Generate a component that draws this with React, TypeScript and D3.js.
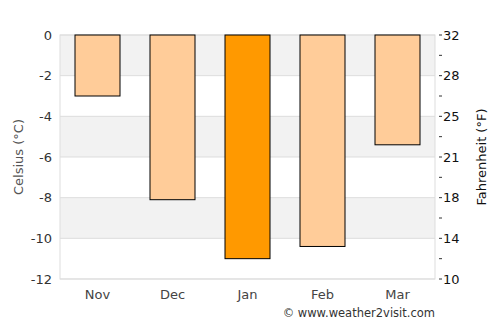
import React, { useEffect, useRef } from 'react';
import * as d3 from 'd3';

const months = ['Nov', 'Dec', 'Jan', 'Feb', 'Mar'];
const celsius = [-3.0, -8.1, -11.0, -10.4, -5.4];
const celsiusTicks = [0, -2, -4, -6, -8, -10, -12];
const fahrenheitLabels = ['32', '28', '25', '21', '18', '14', '10'];
const minorTicks = [-1, -3, -5, -7, -9, -11];

const App: React.FC = () => {
  const svgRef = useRef<SVGSVGElement>(null);

  useEffect(() => {
    if (!svgRef.current) return;
    const W = 500, H = 325;
    const margin = { top: 35, right: 65, bottom: 46, left: 60 };
    const width = W - margin.left - margin.right;
    const height = H - margin.top - margin.bottom;
    const font = 'DejaVu Sans, sans-serif';

    const svg = d3.select(svgRef.current);
    svg.selectAll('*').remove();

    const g = svg.append('g').attr('transform', `translate(${margin.left},${margin.top})`);

    const x = d3.scaleBand().domain(months).range([0, width]).paddingInner(0.4).paddingOuter(0.2);
    const y = d3.scaleLinear().domain([0, -12]).range([0, height]);

    // alternating bands
    celsiusTicks.slice(0, -1).forEach((t, i) => {
      g.append('rect')
        .attr('x', 0)
        .attr('y', y(t))
        .attr('width', width)
        .attr('height', y(t - 2) - y(t))
        .attr('fill', i % 2 === 0 ? '#f2f2f2' : '#ffffff');
    });

    // gridlines
    g.selectAll('line.grid')
      .data(celsiusTicks)
      .enter().append('line')
      .attr('class', 'grid')
      .attr('x1', 0).attr('x2', width)
      .attr('y1', d => y(d)).attr('y2', d => y(d))
      .attr('stroke', '#dddddd');

    g.append('rect')
      .attr('x', 0).attr('y', 0)
      .attr('width', width).attr('height', height)
      .attr('fill', 'none').attr('stroke', '#dddddd');

    const minC = d3.min(celsius) as number;
    g.selectAll('rect.bar')
      .data(celsius)
      .enter().append('rect')
      .attr('class', 'bar')
      .attr('x', (_, i) => x(months[i]) as number)
      .attr('y', y(0))
      .attr('width', x.bandwidth())
      .attr('height', d => y(d) - y(0))
      .attr('fill', d => d === minC ? '#ff9900' : '#ffcc99')
      .attr('stroke', '#000')
      .attr('stroke-width', 1);

    // left axis labels
    g.selectAll('text.lt')
      .data(celsiusTicks)
      .enter().append('text')
      .attr('class', 'lt')
      .attr('x', -8)
      .attr('y', d => y(d))
      .attr('dy', '0.35em')
      .attr('text-anchor', 'end')
      .attr('font-family', font)
      .attr('font-size', 13)
      .attr('fill', '#333')
      .text(d => String(d));

    // right axis
    g.selectAll('line.rt')
      .data([...celsiusTicks, ...minorTicks])
      .enter().append('line')
      .attr('class', 'rt')
      .attr('x1', width + 4).attr('x2', width + 7)
      .attr('y1', d => y(d)).attr('y2', d => y(d))
      .attr('stroke', '#333');

    g.selectAll('text.rl')
      .data(celsiusTicks)
      .enter().append('text')
      .attr('class', 'rl')
      .attr('x', width + 8)
      .attr('y', d => y(d))
      .attr('dy', '0.35em')
      .attr('font-family', font)
      .attr('font-size', 13)
      .attr('fill', '#111')
      .text((_, i) => fahrenheitLabels[i]);

    // month labels
    g.selectAll('text.m')
      .data(months)
      .enter().append('text')
      .attr('class', 'm')
      .attr('x', d => (x(d) as number) + x.bandwidth() / 2)
      .attr('y', height + 20)
      .attr('text-anchor', 'middle')
      .attr('font-family', font)
      .attr('font-size', 13)
      .attr('fill', '#444')
      .text(d => d);

    svg.append('text')
      .attr('transform', `translate(23,${margin.top + height / 2}) rotate(-90)`)
      .attr('text-anchor', 'middle')
      .attr('font-family', font)
      .attr('font-size', 13)
      .attr('fill', '#555')
      .text('Celsius (°C)');

    svg.append('text')
      .attr('transform', `translate(486,${margin.top + height / 2}) rotate(-90)`)
      .attr('text-anchor', 'middle')
      .attr('font-family', font)
      .attr('font-size', 13)
      .attr('fill', '#111')
      .text('Fahrenheit (°F)');

    svg.append('text')
      .attr('x', margin.left + width)
      .attr('y', 317)
      .attr('text-anchor', 'end')
      .attr('font-family', font)
      .attr('font-size', 11.5)
      .attr('fill', '#333')
      .text('© www.weather2visit.com');
  }, []);

  return (
    <svg ref={svgRef} width={500} height={325} style={{ position: 'absolute', left: 0, top: 0 }}></svg>
  );
};

export default App;
